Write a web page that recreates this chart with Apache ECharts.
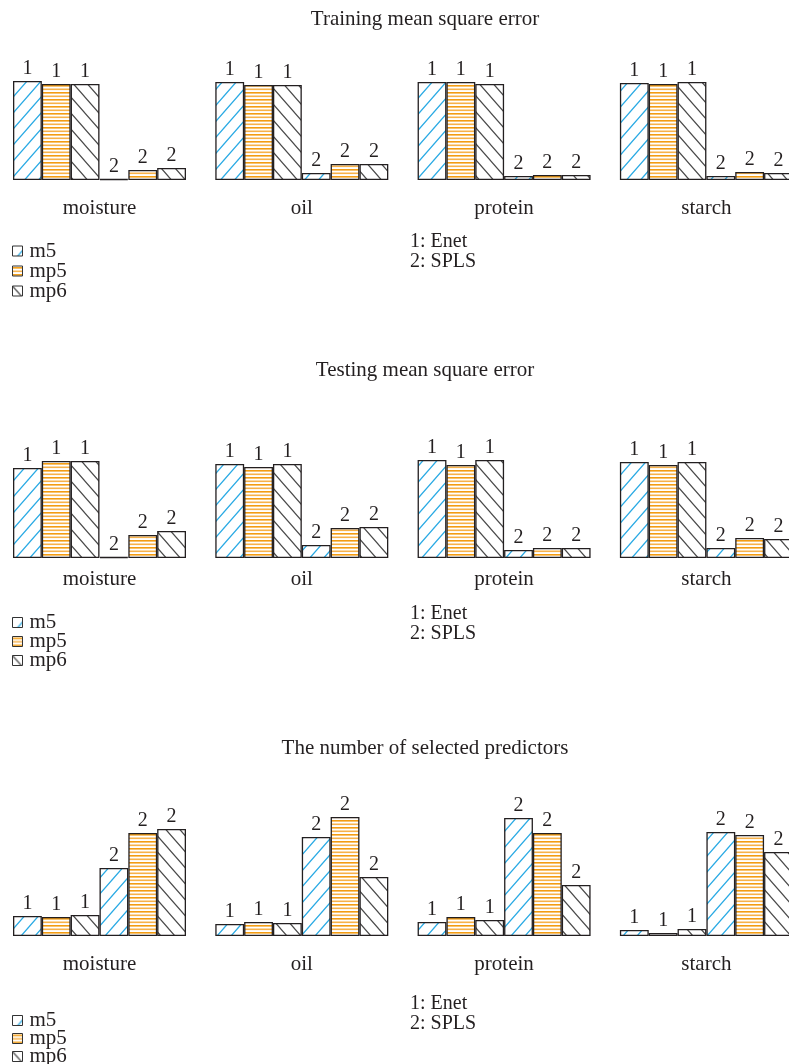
<!DOCTYPE html>
<html><head><meta charset="utf-8">
<script src="https://cdn.jsdelivr.net/npm/echarts@6/dist/echarts.min.js"></script>
<style>html,body{margin:0;padding:0;background:#fff}#c{width:789px;height:1064px}</style>
</head><body><div id="c"></div>
<script>
// ---- data (relative bar heights) ----
const panels = ['moisture', 'oil', 'protein', 'starch'];
const methods = ['Enet', 'SPLS'];
const predictorSets = ['m5', 'mp5', 'mp6'];
const sectionTitles = ['Training mean square error', 'Testing mean square error', 'The number of selected predictors'];
const methodKey = '1: Enet\n2: SPLS';

// each entry: [Enet, SPLS] for moisture, oil, protein, starch
const trainM5  = [[99, 1], [98, 7], [98, 4], [97, 4]];
const trainMp5 = [[96, 10], [95, 16], [98, 5], [96, 8]];
const trainMp6 = [[96, 12], [95, 16], [96, 5], [98, 7]];

const testM5  = [[90, 1], [94, 13], [98, 8], [96, 10]];
const testMp5 = [[97, 23], [91, 30], [93, 10], [93, 20]];
const testMp6 = [[97, 27], [94, 31], [98, 10], [96, 19]];

const predM5  = [[20, 68], [12, 99], [14, 118], [6, 104]];
const predMp5 = [[19, 103], [14, 119], [19, 103], [3, 101]];
const predMp6 = [[21, 107], [13, 59], [16, 51], [7, 84]];

const sections = [
  [trainM5, trainMp5, trainMp6],
  [testM5, testMp5, testMp6],
  [predM5, predMp5, predMp6]
];

// ---- layout ----
const FONT = 'Liberation Serif';
const TXT = '#231f20';
const W = 789;
const baselines = [180, 558, 936];
const titleTops = [8.5, 359.5, 737.5];
const nameGaps = [18, 11, 18];
const legendTops = [240.5, 612, 1010];
const legendGaps = [-1, -2, -3];
const keyTops = [232, 604, 994];
const plotH = 120;
const panelLeft0 = 13, panelStep = 202.3, panelW = 173;

// ---- hatch patterns ----
function makeHatch(kind) {
  const c = document.createElement('canvas');
  const ctx = c.getContext('2d');
  if (kind === 'h') {
    c.width = 4; c.height = 7;
    ctx.fillStyle = '#fff'; ctx.fillRect(0, 0, 4, 7);
    ctx.fillStyle = '#f39c12';
    ctx.fillRect(0, 1, 4, 1.6);
    ctx.fillStyle = '#f7b24a';
    ctx.fillRect(0, 4.5, 4, 1.6);
    return c;
  }
  const w = 14, h = 16;
  c.width = w; c.height = h;
  ctx.fillStyle = '#fff'; ctx.fillRect(0, 0, w, h);
  ctx.strokeStyle = kind === 'f' ? '#2aaae4' : '#4a4a4a';
  ctx.lineWidth = kind === 'f' ? 1.3 : 1.2;
  ctx.lineCap = 'square';
  ctx.beginPath();
  if (kind === 'f') {
    for (const dx of [-w, 0, w]) { ctx.moveTo(dx, h); ctx.lineTo(dx + w, 0); }
  } else {
    for (const dx of [-w, 0, w]) { ctx.moveTo(dx, 0); ctx.lineTo(dx + w, h); }
  }
  ctx.stroke();
  return c;
}
const fills = [makeHatch('f'), makeHatch('h'), makeHatch('b')].map(img => ({ image: img, repeat: 'repeat' }));

// ---- build option ----
const grid = [], xAxis = [], yAxis = [], series = [], title = [], legend = [];
sections.forEach((sets, s) => {
  title.push({ text: sectionTitles[s], left: 425, top: titleTops[s], textAlign: 'center', padding: 0,
    textStyle: { fontFamily: FONT, fontSize: 21, fontWeight: 'normal', color: TXT, lineHeight: 21 } });
  title.push({ text: methodKey, left: 410, top: keyTops[s], padding: 0,
    textStyle: { fontFamily: FONT, fontSize: 20, fontWeight: 'normal', color: TXT, lineHeight: 20 } });
  legend.push({ orient: 'vertical', left: 12, top: legendTops[s], height: 80, padding: 0,
    data: predictorSets, icon: 'rect',
    itemWidth: 10, itemHeight: 10, itemGap: legendGaps[s], selectedMode: false,
    itemStyle: { borderWidth: 1, borderColor: '#333' },
    textStyle: { fontFamily: FONT, fontSize: 21, color: TXT, padding: [0, 0, 0, 2] } });
  panels.forEach((pn, p) => {
    const idx = grid.length;
    const left = panelLeft0 + panelStep * p;
    grid.push({ left: left, width: panelW, top: baselines[s] - plotH, height: plotH,
      outerBoundsMode: 'none', containLabel: false });
    xAxis.push({ type: 'category', gridIndex: idx, data: methods,
      axisLine: { show: false }, axisTick: { show: false }, axisLabel: { show: false },
      name: pn, nameLocation: 'middle', nameGap: nameGaps[s],
      nameTextStyle: { fontFamily: FONT, fontSize: 21, color: TXT } });
    yAxis.push({ type: 'value', gridIndex: idx, min: 0, max: plotH, show: false, splitLine: { show: false } });
    sets.forEach((arr, k) => {
      series.push({
        type: 'bar', name: predictorSets[k], xAxisIndex: idx, yAxisIndex: idx,
        data: arr[p], barGap: '0%', barCategoryGap: '0%',
        itemStyle: { color: fills[k], borderColor: TXT, borderWidth: 1.3 },
        label: { show: true, position: 'top', distance: 2,
          formatter: d => String(d.dataIndex + 1),
          fontFamily: FONT, fontSize: 20, color: TXT },
        emphasis: { disabled: true }, animation: false
      });
    });
  });
});

const chart = echarts.init(document.getElementById('c'), null, { renderer: 'canvas' });
chart.setOption({ animation: false, backgroundColor: '#fff', title, legend, grid, xAxis, yAxis, series });
</script></body></html>
